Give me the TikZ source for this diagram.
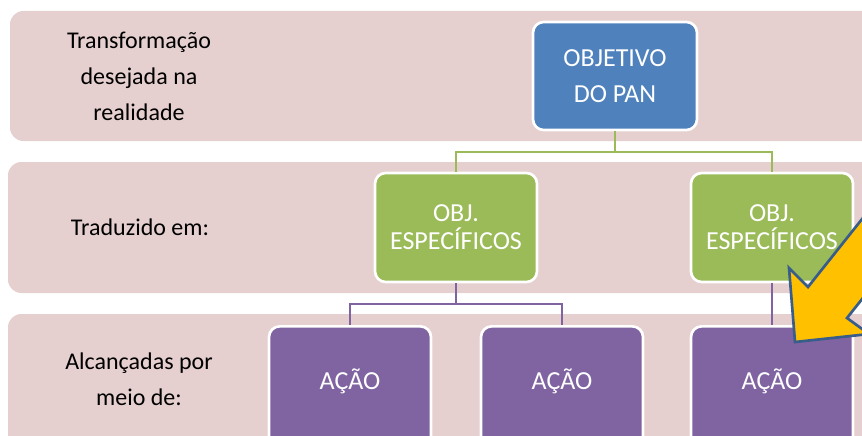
\documentclass[tikz,border=0pt]{standalone}
\usepackage{fontspec}
\setmainfont{Carlito}
\usetikzlibrary{calc}
\definecolor{corfaixa}{RGB}{230,207,207}
\definecolor{azulpan}{RGB}{79,129,189}
\definecolor{verdeobj}{RGB}{155,187,89}
\definecolor{roxoacao}{RGB}{128,100,162}
\definecolor{amareloseta}{RGB}{255,192,0}
\definecolor{bordaseta}{RGB}{56,93,138}
\tikzset{
  faixa/.style={fill=corfaixa,rounded corners=10pt},
  caixa/.style={draw=white,line width=2pt,rounded corners=8pt,text=white,align=center,inner sep=0pt},
  objpan/.style={caixa,fill=azulpan,minimum width=123pt,minimum height=81pt,font=\fontsize{19.5}{27}\selectfont},
  objesp/.style={caixa,fill=verdeobj,minimum width=121.5pt,minimum height=81.75pt,font=\fontsize{19.5}{21}\selectfont},
  acao/.style={caixa,fill=roxoacao,minimum width=121.5pt,minimum height=97.5pt,anchor=north,text height=12pt,text depth=14.4pt,font=\fontsize{19.5}{21}\selectfont},
  rotulo/.style={align=center,inner sep=0pt,font=\fontsize{18}{27}\selectfont},
  ligaverde/.style={draw=verdeobj,line width=2pt},
  ligaroxa/.style={draw=roxoacao,line width=2pt}
}
\begin{document}
\begin{tikzpicture}[x=0.75pt,y=-0.75pt]
      \useasboundingbox (0,0) rectangle (862,435);
      \clip (0,0) rectangle (862,435);
      \fill[faixa] (10,11) rectangle (880,141);
      \fill[faixa] (8,162) rectangle (880,293);
      \fill[faixa] (8,314) rectangle (880,470);
      \node[rotulo] (transf) at (139,76) {Transformação\\desejada na\\realidade};
      \node[rotulo] (traduz) at (140,227) {Traduzido em:};
      \node[rotulo] (alcanc) at (139,379) {Alcançadas por\\meio de:};
      \coordinate (juntaverde) at (615,152);
      \coordinate (juntaroxa) at (456,304);
      \node[objpan] (pan) at (615,76) {OBJETIVO\\DO PAN};
      \node[objesp] (esp1) at (456,227.5) {OBJ.\\ESPECÍFICOS};
      \node[objesp] (esp2) at (772,227.5) {OBJ.\\ESPECÍFICOS};
      \node[acao] (acao1) at (350,325) {AÇÃO};
      \node[acao] (acao2) at (562,325) {AÇÃO};
      \node[acao] (acao3) at (772,325) {AÇÃO};
      \draw[ligaverde] (pan.south) -- (juntaverde) -| (esp1.north);
      \draw[ligaverde] (juntaverde) -| (esp2.north);
      \draw[ligaroxa] (esp1.south) -- (juntaroxa) -| (acao1.north);
      \draw[ligaroxa] (juntaroxa) -| (acao2.north);
      \draw[ligaroxa] (esp2.south) -- (acao3.north);
      \filldraw[fill=amareloseta,draw=bordaseta,line width=2pt,line join=miter]
        (795,342) -- (789,268) -- (808,287) -- (932,131) -- (971,162) -- (847,318) -- (869,334) -- cycle;
\end{tikzpicture}
\end{document}
